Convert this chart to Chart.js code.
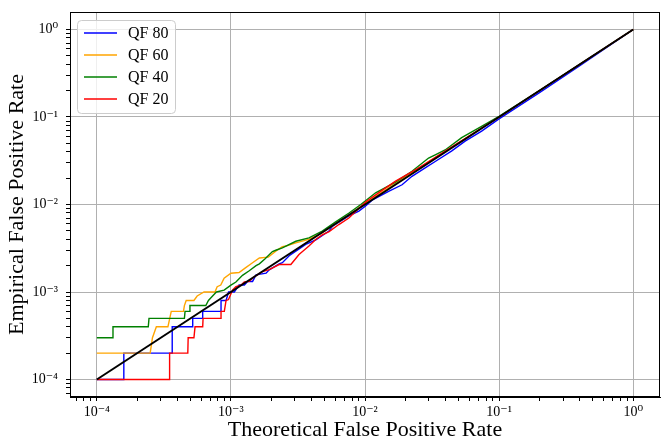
<!DOCTYPE html>
<html lang="en">
<head>
<meta charset="UTF-8">
<title>Empirical vs Theoretical False Positive Rate</title>
<script src="https://cdn.jsdelivr.net/npm/chart.js"></script>
<style>
  html, body { margin: 0; padding: 0; background: #fff; }
  #fpr-chart { display: block; }
</style>
</head>
<body>
<canvas id="fpr-chart" width="662" height="443"></canvas>
<script>
// values (log-log)
const seriesLabels = ['QF 80', 'QF 60', 'QF 40', 'QF 20'];
const seriesColors = ['#0000ff', '#ffa500', '#008000', '#ff0000'];

const qf80X = [1e-4, 1.59e-4, 1.59e-4, 3.65e-4, 3.65e-4, 5.19e-4, 5.19e-4, 6.16e-4, 6.16e-4, 8.44e-4, 8.44e-4, 9.2e-4, 9.6e-4, 1.06e-3, 1.15e-3, 1.26e-3, 1.33e-3, 1.45e-3, 1.54e-3, 1.83e-3, 1.93e-3, 2.29e-3, 2.42e-3, 2.72e-3, 3.05e-3, 3.61e-3, 4.3e-3, 5.38e-3, 5.7e-3, 7.58e-3, 9.0e-3, 1.01e-2, 1.13e-2, 1.5e-2, 1.89e-2, 2.24e-2, 2.81e-2, 3.34e-2, 4.44e-2, 5.58e-2, 7.41e-2, 9.86e-2, 0.2, 0.4, 1];
const qf80Y = [1e-4, 1e-4, 2e-4, 2e-4, 4e-4, 4e-4, 5e-4, 5e-4, 6e-4, 6e-4, 8e-4, 8e-4, 1e-3, 1e-3, 1.2e-3, 1.2e-3, 1.32e-3, 1.32e-3, 1.57e-3, 1.64e-3, 1.79e-3, 2.1e-3, 2.16e-3, 2.6e-3, 2.93e-3, 3.5e-3, 3.95e-3, 4.97e-3, 5.6e-3, 7.4e-3, 8.4e-3, 9.6e-3, 1.12e-2, 1.41e-2, 1.68e-2, 2.1e-2, 2.62e-2, 3.1e-2, 4.1e-2, 5.3e-2, 6.9e-2, 9.4e-2, 0.19, 0.385, 1];

const qf60X = [1e-4, 2.5e-4, 2.6e-4, 2.78e-4, 3.39e-4, 3.59e-4, 4.43e-4, 4.5e-4, 4.64e-4, 5.3e-4, 5.6e-4, 6.3e-4, 7.6e-4, 7.9e-4, 8.4e-4, 8.9e-4, 1e-3, 1.15e-3, 1.29e-3, 1.45e-3, 1.63e-3, 1.9e-3, 2.16e-3, 2.42e-3, 2.57e-3, 3.05e-3, 3.8e-3, 4.8e-3, 5.7e-3, 7.6e-3, 1.0e-2, 1.5e-2, 3e-2, 0.1, 0.3, 1];
const qf60Y = [2e-4, 2e-4, 3e-4, 4e-4, 4e-4, 6e-4, 6e-4, 7e-4, 8e-4, 8e-4, 9e-4, 1e-3, 1e-3, 1.15e-3, 1.2e-3, 1.44e-3, 1.64e-3, 1.67e-3, 1.9e-3, 2.16e-3, 2.45e-3, 2.5e-3, 2.93e-3, 3.3e-3, 3.35e-3, 3.65e-3, 4.0e-3, 4.75e-3, 5.7e-3, 7.6e-3, 1.03e-2, 1.55e-2, 3.1e-2, 0.1, 0.3, 1];

const qf40X = [1e-4, 1.32e-4, 1.32e-4, 2.42e-4, 2.45e-4, 4.5e-4, 4.55e-4, 4.9e-4, 4.95e-4, 6.5e-4, 6.8e-4, 7.3e-4, 7.8e-4, 8.9e-4, 1.0e-3, 1.09e-3, 1.22e-3, 1.37e-3, 1.54e-3, 1.63e-3, 1.8e-3, 2.04e-3, 2.16e-3, 2.42e-3, 3.05e-3, 3.82e-3, 4.8e-3, 6e-3, 7.6e-3, 9.3e-3, 1.2e-2, 1.69e-2, 2.24e-2, 2.98e-2, 3.34e-2, 3.96e-2, 5.26e-2, 7.4e-2, 0.1, 0.2, 1];
const qf40Y = [3e-4, 3e-4, 4e-4, 4e-4, 5e-4, 5e-4, 6e-4, 6e-4, 7e-4, 7e-4, 8e-4, 9e-4, 1e-3, 1.05e-3, 1.2e-3, 1.3e-3, 1.55e-3, 1.75e-3, 2.0e-3, 2.1e-3, 2.4e-3, 2.9e-3, 3.0e-3, 3.2e-3, 3.8e-3, 4.15e-3, 4.97e-3, 6.3e-3, 8.0e-3, 1.0e-2, 1.36e-2, 1.8e-2, 2.4e-2, 3.4e-2, 3.7e-2, 4.2e-2, 5.8e-2, 7.8e-2, 0.102, 0.2, 1];

const qf20X = [1e-4, 3.49e-4, 3.49e-4, 4.77e-4, 4.8e-4, 5.3e-4, 5.4e-4, 6.16e-4, 6.2e-4, 8.44e-4, 8.44e-4, 8.93e-4, 9.2e-4, 9.6e-4, 1.03e-3, 1.09e-3, 1.19e-3, 1.26e-3, 1.37e-3, 1.5e-3, 1.72e-3, 1.93e-3, 2.29e-3, 2.8e-3, 3.22e-3, 3.82e-3, 4.29e-3, 4.8e-3, 5.4e-3, 6.38e-3, 7.58e-3, 1.01e-2, 1.34e-2, 1.69e-2, 2.5e-2, 0.1, 1];
const qf20Y = [1e-4, 1e-4, 2e-4, 2e-4, 3e-4, 3e-4, 4e-4, 4e-4, 5e-4, 5e-4, 6e-4, 6e-4, 8e-4, 8.2e-4, 1.06e-3, 1.15e-3, 1.2e-3, 1.3e-3, 1.32e-3, 1.5e-3, 1.71e-3, 1.8e-3, 2.06e-3, 2.06e-3, 2.68e-3, 3.35e-3, 3.98e-3, 4.5e-3, 4.9e-3, 5.9e-3, 7e-3, 1.07e-2, 1.45e-2, 1.85e-2, 2.6e-2, 0.1, 1];

// ideal y = x line
const idealX = [1e-4, 1];
const idealY = [1e-4, 1];

// axis ticks (powers of ten get labels + grid lines)
const majorTicks = [1e-4, 1e-3, 1e-2, 1e-1, 1];
const minorMultipliers = [2, 3, 4, 5, 6, 7, 8, 9];

const axisMin = Math.pow(10, -4.2);
const axisMax = Math.pow(10, 0.2);

function pairs(xs, ys) {
    return xs.map((x, i) => ({ x: x, y: ys[i] }));
}

function isMajor(v) {
    return majorTicks.some(m => Math.abs(Math.log10(v) - Math.log10(m)) < 1e-9);
}

function allTicks() {
    const out = [];
    for (let e = -5; e <= 0; e++) {
        const base = Math.pow(10, e);
        out.push(base);
        minorMultipliers.forEach(m => out.push(m * base));
    }
    return out.filter(v => v >= axisMin && v <= axisMax).sort((a, b) => a - b);
}

const supDigits = { '-': '\u207B', '0': '\u2070', '1': '\u00B9', '2': '\u00B2', '3': '\u00B3', '4': '\u2074', '5': '\u2075', '6': '\u2076', '7': '\u2077', '8': '\u2078', '9': '\u2079' };

function powLabel(v) {
    if (!isMajor(v)) return '';
    const exp = String(Math.round(Math.log10(v)));
    return '10' + exp.split('').map(c => supDigits[c]).join('');
}

const serif = "'Liberation Serif', 'DejaVu Serif', serif";

function axisOptions(title, fitFn, tickPad) {
    return {
        type: 'logarithmic',
        min: axisMin,
        max: axisMax,
        afterBuildTicks: function (axis) {
            axis.ticks = allTicks().map(v => ({ value: v, major: isMajor(v) }));
        },
        afterFit: fitFn,
        grid: {
            color: ctx => (ctx.tick && isMajor(ctx.tick.value)) ? '#b0b0b0' : 'rgba(0,0,0,0)',
            lineWidth: 1,
            tickColor: '#000',
            tickLength: 4
        },
        border: { display: true, color: '#000', width: 1 },
        ticks: {
            autoSkip: false,
            maxRotation: 0,
            minRotation: 0,
            padding: tickPad,
            color: '#000',
            font: { family: serif, size: 14 },
            callback: function (value) { return powLabel(value); }
        },
        title: {
            display: true,
            text: title,
            color: '#000',
            font: { family: serif, size: 22 },
            padding: { top: 0, bottom: 0 }
        }
    };
}

// top/right spines
const framePlugin = {
    id: 'frame',
    afterDraw(chart) {
        const a = chart.chartArea;
        const ctx = chart.ctx;
        ctx.save();
        ctx.strokeStyle = '#000';
        ctx.lineWidth = 1;
        ctx.strokeRect(a.left + 0.5, a.top + 0.5, a.right - a.left - 1, a.bottom - a.top - 1);
        ctx.restore();
    }
};

// matplotlib-like legend in the upper left corner
const legendPlugin = {
    id: 'boxLegend',
    afterDatasetsDraw(chart) {
        const a = chart.chartArea;
        const ctx = chart.ctx;
        const items = chart.data.datasets.filter(d => seriesLabels.includes(d.label));
        const x0 = a.left + 7, y0 = a.top + 8;
        const w = 98, rowH = 22, h = rowH * items.length + 5;
        ctx.save();
        ctx.beginPath();
        ctx.roundRect(x0 + 0.5, y0 + 0.5, w, h, 4);
        ctx.fillStyle = 'rgba(255,255,255,0.8)';
        ctx.fill();
        ctx.strokeStyle = '#cccccc';
        ctx.lineWidth = 1;
        ctx.stroke();
        ctx.font = '16px ' + serif;
        ctx.textBaseline = 'middle';
        ctx.fillStyle = '#000';
        items.forEach((d, i) => {
            const y = y0 + 13 + i * rowH;
            ctx.beginPath();
            ctx.strokeStyle = d.borderColor;
            ctx.lineWidth = 1.4;
            ctx.moveTo(x0 + 7, y);
            ctx.lineTo(x0 + 40, y);
            ctx.stroke();
            ctx.fillText(d.label, x0 + 51, y + 1);
        });
        ctx.restore();
    }
};

const datasets = [
    { label: seriesLabels[0], data: pairs(qf80X, qf80Y), borderColor: seriesColors[0], order: 4 },
    { label: seriesLabels[1], data: pairs(qf60X, qf60Y), borderColor: seriesColors[1], order: 3 },
    { label: seriesLabels[2], data: pairs(qf40X, qf40Y), borderColor: seriesColors[2], order: 2 },
    { label: seriesLabels[3], data: pairs(qf20X, qf20Y), borderColor: seriesColors[3], order: 1 },
    { label: 'ideal', data: pairs(idealX, idealY), borderColor: '#000000', borderWidth: 2, order: 0 }
].map(d => Object.assign({ borderWidth: 1.4, pointRadius: 0, tension: 0, fill: false }, d));

new Chart(document.getElementById('fpr-chart').getContext('2d'), {
    type: 'line',
    data: { datasets: datasets },
    options: {
        responsive: false,
        animation: false,
        parsing: false,
        layout: { padding: { left: 4, top: 12, right: 2, bottom: 0 } },
        plugins: {
            legend: { display: false },
            tooltip: { enabled: false }
        },
        scales: {
            x: axisOptions('Theoretical False Positive Rate', s => {
                s.height = 46; s.paddingLeft = 0; s.paddingRight = 0;
            }, 3),
            y: axisOptions('Empirical False Positive Rate', s => {
                s.width = 66; s.paddingTop = 0; s.paddingBottom = 0;
            }, 8)
        }
    },
    plugins: [framePlugin, legendPlugin]
});
</script>
</body>
</html>
